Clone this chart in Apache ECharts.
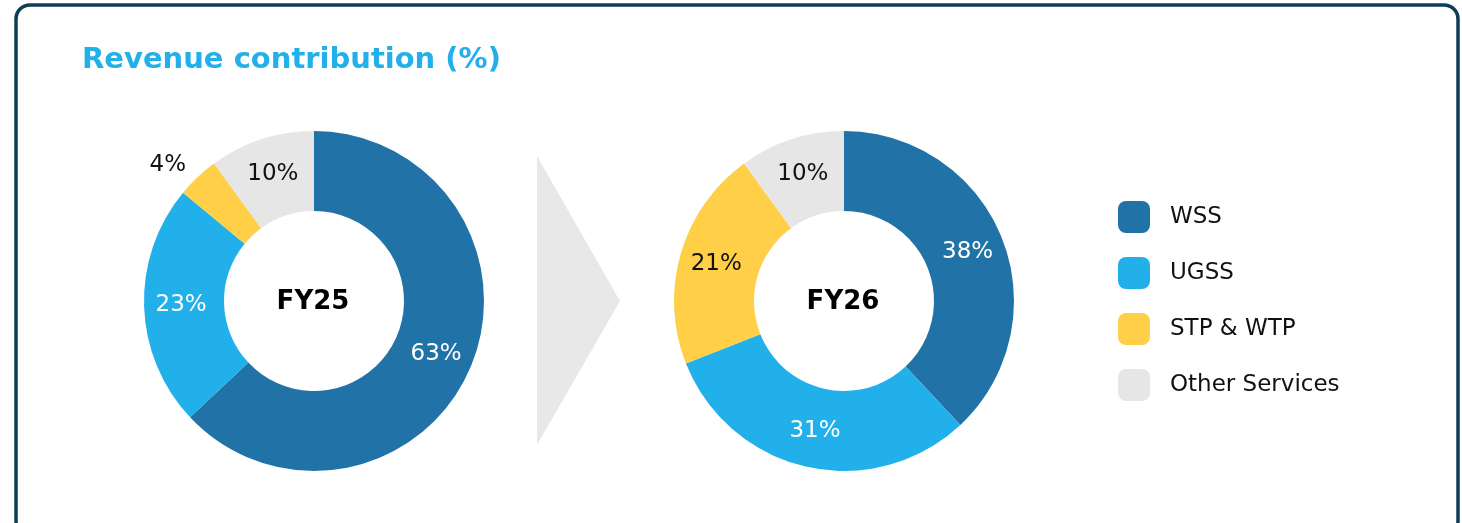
<!DOCTYPE html>
<html>
<head>
<meta charset="utf-8">
<script src="https://cdn.jsdelivr.net/npm/echarts@6/dist/echarts.min.js"></script>
<style>
  html, body { margin: 0; padding: 0; background: #fff; }
  #main { width: 1462px; height: 523px; }
</style>
</head>
<body>
<div id="main"></div>
<script>
// 数据
var categories = ['WSS', 'UGSS', 'STP & WTP', 'Other Services'];
var fy25Values = [63, 23, 4, 10];
var fy26Values = [38, 31, 21, 10];
var colors = ['#2172a6', '#21b0e9', '#ffcf47', '#e6e6e6'];
var labelColors = ['#ffffff', '#ffffff', '#111111', '#111111'];

var FONT = '"DejaVu Sans"';

// 构造饼图数据
function buildData(values, outsideIdx) {
    var out = [];
    for (var i = 0; i < values.length; i++) {
        var item = {
            name: categories[i],
            value: values[i],
            itemStyle: { color: colors[i] },
            label: { color: labelColors[i] }
        };
        if (i === outsideIdx) {
            item.label = { position: 'outside', color: '#111111', distanceToLabelLine: 0 };
            item.labelLine = { show: false, length: 17, length2: 0 };
        }
        out.push(item);
    }
    return out;
}

function pieSeries(name, cx, values, outsideIdx) {
    return {
        name: name,
        type: 'pie',
        center: [cx, 301],
        radius: [90, 170],
        startAngle: 90,
        clockwise: true,
        avoidLabelOverlap: false,
        emphasis: { disabled: true },
        label: {
            show: true,
            position: 'inside',
            formatter: '{c}%',
            fontFamily: FONT,
            fontSize: 23,
            fontWeight: 400
        },
        labelLine: { show: false },
        data: buildData(values, outsideIdx)
    };
}

var option = {
    animation: false,
    title: [
        {
            text: 'Revenue contribution (%)',
            left: 82,
            top: 46,
            padding: 0,
            textStyle: { color: '#21b0e9', fontFamily: FONT, fontSize: 29, fontWeight: 'bold' }
        },
        {
            text: 'FY25',
            left: 313,
            top: 302,
            padding: 0,
            textAlign: 'center',
            textVerticalAlign: 'middle',
            textStyle: { color: '#000', fontFamily: FONT, fontSize: 26, fontWeight: 'bold' }
        },
        {
            text: 'FY26',
            left: 843,
            top: 302,
            padding: 0,
            textAlign: 'center',
            textVerticalAlign: 'middle',
            textStyle: { color: '#000', fontFamily: FONT, fontSize: 26, fontWeight: 'bold' }
        }
    ],
    legend: {
        orient: 'vertical',
        left: 1118,
        top: 201,
        padding: 0,
        icon: 'roundRect',
        itemWidth: 32,
        itemHeight: 32,
        itemGap: 24,
        selectedMode: false,
        data: categories,
        textStyle: {
            color: '#111',
            fontFamily: FONT,
            fontSize: 23,
            fontWeight: 400,
            padding: [0, 0, 0, 15]
        }
    },
    graphic: [
        {
            type: 'rect',
            shape: { x: 16, y: 5, width: 1442, height: 530, r: 14 },
            style: { fill: 'none', stroke: '#0e3d55', lineWidth: 3.5 },
            z: -1
        },
        {
            type: 'polygon',
            shape: { points: [[537, 156], [620, 301], [537, 445]] },
            style: { fill: '#e8e8e8' },
            z: -1
        }
    ],
    series: [
        pieSeries('FY25', 314, fy25Values, 2),
        pieSeries('FY26', 844, fy26Values, -1)
    ]
};

var myChart = echarts.init(document.getElementById('main'));
myChart.setOption(option, true);
</script>
</body>
</html>
